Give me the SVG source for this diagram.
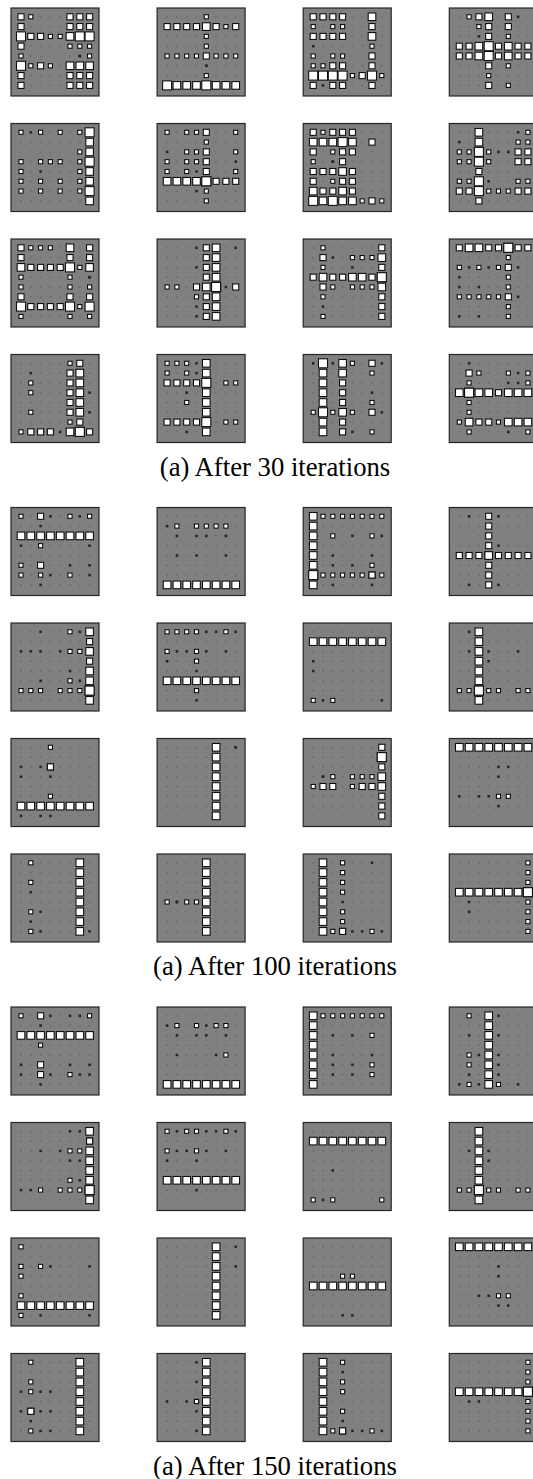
<svg xmlns="http://www.w3.org/2000/svg" width="533" height="1479" viewBox="0 0 533 1479">
<style>
.bg{fill:#808080;stroke:#262626;stroke-width:1.2}
.g{fill:url(#dots)}
.w{fill:#fff;stroke:#0d0d0d;stroke-width:.11}
.k{fill:#262626}
path{fill:none;stroke:none}
.A{marker-start:url(#mA);marker-mid:url(#mA);marker-end:url(#mA)}
.B{marker-start:url(#mB);marker-mid:url(#mB);marker-end:url(#mB)}
.C{marker-start:url(#mC);marker-mid:url(#mC);marker-end:url(#mC)}
.D{marker-start:url(#mD);marker-mid:url(#mD);marker-end:url(#mD)}
.E{marker-start:url(#mE);marker-mid:url(#mE);marker-end:url(#mE)}
.cap{font-family:"Liberation Serif","Times New Roman",serif;font-size:26.7px;fill:#000;text-anchor:middle}
</style>
<defs>
<pattern id="dots" patternUnits="userSpaceOnUse" x="-.5" y="-.5" width="1" height="1"><rect x=".43" y=".43" width=".14" height=".14" fill="#5e5e5e"/></pattern>
<marker id="mA" markerUnits="userSpaceOnUse" viewBox="-.5 -.5 1 1" markerWidth="1" markerHeight="1" overflow="visible"><rect class="w" x="-.46" y="-.46" width=".92" height=".92"/></marker>
<marker id="mB" markerUnits="userSpaceOnUse" viewBox="-.5 -.5 1 1" markerWidth="1" markerHeight="1" overflow="visible"><rect class="w" x="-.39" y="-.39" width=".78" height=".78"/></marker>
<marker id="mC" markerUnits="userSpaceOnUse" viewBox="-.5 -.5 1 1" markerWidth="1" markerHeight="1" overflow="visible"><rect class="w" x="-.31" y="-.31" width=".62" height=".62"/></marker>
<marker id="mD" markerUnits="userSpaceOnUse" viewBox="-.5 -.5 1 1" markerWidth="1" markerHeight="1" overflow="visible"><rect class="w" x="-.21" y="-.21" width=".42" height=".42"/></marker>
<marker id="mE" markerUnits="userSpaceOnUse" viewBox="-.5 -.5 1 1" markerWidth="1" markerHeight="1" overflow="visible"><rect class="k" x="-.13" y="-.13" width=".26" height=".26"/></marker>
</defs>

<!-- ===== After 30 iterations ===== -->
<g id="it30-r1c1" transform="translate(11,8)"><rect class="bg" width="88" height="88"/><g transform="translate(10,8.8) scale(9.8)"><rect class="g" x="-.5" y="-.5" width="8" height="8"/>
<path class="E" d="M6 4 6 4"/>
<path class="D" d="M1 0 3 2 4 2 5 3 6 3 7 3 0 4 7 4 1 5 3 5"/>
<path class="C" d="M0 0 5 0 6 0 7 0 0 1 5 1 6 1 7 1 1 2 2 2 0 3 2 5 0 6 5 6 6 6 7 6 0 7 5 7 6 7 7 7"/>
<path class="B" d="M5 2 5 5 6 5 7 5"/>
<path class="A" d="M0 2 6 2 7 2 0 5"/>
</g></g>
<g id="it30-r1c2" transform="translate(157.1,8)"><rect class="bg" width="88" height="88"/><g transform="translate(10,8.8) scale(9.8)"><rect class="g" x="-.5" y="-.5" width="8" height="8"/>
<path class="E" d="M4 5 4 5"/>
<path class="D" d="M4 0 6 1 4 2 4 3 0 4 1 4 2 4 3 4 5 4 6 4 7 4 4 6"/>
<path class="C" d="M0 1 1 1 2 1 3 1 5 1 7 1 4 4"/>
<path class="B" d="M4 1 1 7 2 7 3 7 5 7 6 7 7 7"/>
<path class="A" d="M0 7 4 7"/>
</g></g>
<g id="it30-r1c3" transform="translate(303.2,8)"><rect class="bg" width="88" height="88"/><g transform="translate(10,8.8) scale(9.8)"><rect class="g" x="-.5" y="-.5" width="8" height="8"/>
<path class="E" d="M0 3 1 7"/>
<path class="D" d="M0 1 2 1 3 1 6 3 0 4 2 4 3 4 0 5 1 5 4 6 7 6"/>
<path class="C" d="M0 0 1 0 2 0 3 0 6 1 0 2 1 2 2 2 3 2 6 4 2 5 3 5 6 5 5 6 0 7 2 7 3 7 6 7"/>
<path class="B" d="M6 0 6 2"/>
<path class="A" d="M0 6 1 6 2 6 3 6 6 6"/>
</g></g>
<g id="it30-r1c4" transform="translate(449.3,8)"><rect class="bg" width="88" height="88"/><g transform="translate(10,8.8) scale(9.8)"><rect class="g" x="-.5" y="-.5" width="8" height="8"/>
<path class="E" d="M6 0 2 2"/>
<path class="D" d="M1 0 2 1 5 2 5 5 3 6 5 7"/>
<path class="C" d="M2 0 5 0 3 1 5 1 3 2 0 3 1 3 4 3 6 3 7 3 0 4 1 4 4 4 6 4 7 4 3 5 3 7"/>
<path class="B" d="M3 0 2 3 5 3 2 4 5 4"/>
<path class="A" d="M3 3 3 4"/>
</g></g>

<g id="it30-r2c1" transform="translate(11,123.5)"><rect class="bg" width="88" height="88"/><g transform="translate(10,8.8) scale(9.8)"><rect class="g" x="-.5" y="-.5" width="8" height="8"/>
<path class="E" d="M1 0 2 4"/>
<path class="D" d="M0 0 2 0 4 0 6 0 6 2 0 3 2 3 3 3 4 3 6 3 0 4 6 4 0 5 2 5 4 5 6 5 0 6 2 6 4 6 6 6"/>
<path class="B" d="M7 1 7 2 7 4 7 5 7 7"/>
<path class="A" d="M7 0 7 3 7 6"/>
</g></g>
<g id="it30-r2c2" transform="translate(157.1,123.5)"><rect class="bg" width="88" height="88"/><g transform="translate(10,8.8) scale(9.8)"><rect class="g" x="-.5" y="-.5" width="8" height="8"/>
<path class="E" d="M0 2 7 3 3 4 3 6"/>
<path class="D" d="M0 0 2 0 3 0 7 0 4 1 2 2 3 2 7 2 0 3 2 3 3 3 0 4 2 4 7 4 4 6 4 7"/>
<path class="C" d="M4 0 4 2 4 3 4 4 5 5 6 5 7 5"/>
<path class="B" d="M0 5 1 5 2 5 3 5"/>
<path class="A" d="M4 5 4 5"/>
</g></g>
<g id="it30-r2c3" transform="translate(303.2,123.5)"><rect class="bg" width="88" height="88"/><g transform="translate(10,8.8) scale(9.8)"><rect class="g" x="-.5" y="-.5" width="8" height="8"/>
<path class="E" d="M2 3 2 3"/>
<path class="D" d="M1 0 2 2 0 3 2 5 5 7 7 7"/>
<path class="C" d="M0 0 2 0 3 0 4 0 6 1 0 2 3 2 4 2 3 3 0 4 1 4 2 4 4 4 0 5 3 5 4 5 1 6 2 6 4 6 6 7"/>
<path class="B" d="M0 1 1 1 2 1 4 1 3 4 0 6 3 6 1 7 3 7 4 7"/>
<path class="A" d="M3 1 0 7 2 7"/>
</g></g>
<g id="it30-r2c4" transform="translate(449.3,123.5)"><rect class="bg" width="88" height="88"/><g transform="translate(10,8.8) scale(9.8)"><rect class="g" x="-.5" y="-.5" width="8" height="8"/>
<path class="E" d="M6 0 0 1 4 2 5 2 3 5"/>
<path class="D" d="M7 0 6 1 7 1 0 2 1 2 3 2 0 3 1 3 3 3 0 5 1 5 6 5 7 5 3 6 4 6 5 6"/>
<path class="C" d="M6 2 7 2 6 3 7 3 2 4 0 6 1 6 6 6 7 6 2 7"/>
<path class="B" d="M2 0 2 1"/>
<path class="A" d="M2 2 2 3 2 5 2 6"/>
</g></g>

<g id="it30-r3c1" transform="translate(11,239)"><rect class="bg" width="88" height="88"/><g transform="translate(10,8.8) scale(9.8)"><rect class="g" x="-.5" y="-.5" width="8" height="8"/>
<path class="E" d="M7 3 7 3"/>
<path class="D" d="M1 0 2 0 3 0 6 2 0 3 5 3 0 4 5 4 7 4 6 6 0 7 5 7 7 7"/>
<path class="C" d="M0 0 7 0 0 1 5 1 7 1 1 2 2 2 3 2 4 2 0 5 5 5 7 5 1 6 2 6 3 6 4 6"/>
<path class="B" d="M5 0 0 2 7 2"/>
<path class="A" d="M5 2 0 6 5 6 7 6"/>
</g></g>
<g id="it30-r3c2" transform="translate(157.1,239)"><rect class="bg" width="88" height="88"/><g transform="translate(10,8.8) scale(9.8)"><rect class="g" x="-.5" y="-.5" width="8" height="8"/>
<path class="E" d="M3 0 7 0 3 2 6 4 3 6 3 7"/>
<path class="D" d="M0 4 1 4 3 5"/>
<path class="C" d="M4 0 4 1 4 2 4 3 3 4 7 4 4 5 4 6 4 7"/>
<path class="B" d="M5 0 5 1 5 2 5 3 4 4 5 5 5 6 5 7"/>
<path class="A" d="M5 4 5 4"/>
</g></g>
<g id="it30-r3c3" transform="translate(303.2,239)"><rect class="bg" width="88" height="88"/><g transform="translate(10,8.8) scale(9.8)"><rect class="g" x="-.5" y="-.5" width="8" height="8"/>
<path class="E" d="M2 1 4 2 1 6"/>
<path class="D" d="M1 0 4 1 5 1 6 1 1 2 2 4 4 4 5 4 6 4 1 5 1 7"/>
<path class="C" d="M7 0 1 1 7 2 0 3 2 3 3 3 6 3 1 4 7 5 7 6 7 7"/>
<path class="B" d="M7 1 1 3 4 3 5 3 7 4"/>
<path class="A" d="M7 3 7 3"/>
</g></g>
<g id="it30-r3c4" transform="translate(449.3,239)"><rect class="bg" width="88" height="88"/><g transform="translate(10,8.8) scale(9.8)"><rect class="g" x="-.5" y="-.5" width="8" height="8"/>
<path class="E" d="M1 2 3 2 6 2 0 3 0 4 2 4 6 5 0 7 2 7"/>
<path class="D" d="M5 1 0 2 2 2 4 2 5 3 5 4 0 5 1 5 2 5 3 5 4 5 5 6 5 7"/>
<path class="C" d="M0 0 3 0 4 0 6 0 7 0 5 2 5 5"/>
<path class="B" d="M1 0 2 0"/>
<path class="A" d="M5 0 5 0"/>
</g></g>

<g id="it30-r4c1" transform="translate(11,354.5)"><rect class="bg" width="88" height="88"/><g transform="translate(10,8.8) scale(9.8)"><rect class="g" x="-.5" y="-.5" width="8" height="8"/>
<path class="E" d="M1 1 7 3 7 5 4 7"/>
<path class="D" d="M5 0 1 2 1 3 1 5 5 6 0 7"/>
<path class="C" d="M6 0 5 1 5 2 5 3 5 4 5 5 6 6 1 7 2 7 3 7 7 7"/>
<path class="B" d="M6 1 6 2 6 3 6 4 6 5 5 7"/>
<path class="A" d="M6 7 6 7"/>
</g></g>
<g id="it30-r4c2" transform="translate(157.1,354.5)"><rect class="bg" width="88" height="88"/><g transform="translate(10,8.8) scale(9.8)"><rect class="g" x="-.5" y="-.5" width="8" height="8"/>
<path class="E" d="M3 0 3 1 2 3 2 7"/>
<path class="D" d="M0 0 1 0 2 0 0 1 2 1 6 2 7 2 2 4 6 6 7 6"/>
<path class="C" d="M0 2 1 2 2 2 3 2 0 6 1 6 2 6 3 6"/>
<path class="B" d="M4 0 4 1 4 3 4 4 4 5 4 7"/>
<path class="A" d="M4 2 4 6"/>
</g></g>
<g id="it30-r4c3" transform="translate(303.2,354.5)"><rect class="bg" width="88" height="88"/><g transform="translate(10,8.8) scale(9.8)"><rect class="g" x="-.5" y="-.5" width="8" height="8"/>
<path class="E" d="M0 0 2 0 7 0 6 3 7 5 4 7"/>
<path class="D" d="M4 0 6 1 6 4 0 5 2 5 4 5 6 7"/>
<path class="C" d="M6 0 3 2 3 3 3 4 6 5 3 6 3 7"/>
<path class="B" d="M3 0 1 1 3 1 1 2 1 3 1 4 3 5 1 6 1 7"/>
<path class="A" d="M1 0 1 5"/>
</g></g>
<g id="it30-r4c4" transform="translate(449.3,354.5)"><rect class="bg" width="88" height="88"/><g transform="translate(10,8.8) scale(9.8)"><rect class="g" x="-.5" y="-.5" width="8" height="8"/>
<path class="E" d="M1 0 6 1 5 2 6 2 5 7"/>
<path class="D" d="M2 1 5 1 7 1 1 2 7 2 1 4 1 5 0 6 4 6 1 7 7 7"/>
<path class="C" d="M1 1 4 3 2 6 3 6"/>
<path class="B" d="M0 3 2 3 3 3 5 3 6 3 7 3 1 6 5 6 6 6 7 6"/>
<path class="A" d="M1 3 1 3"/>
</g></g>

<text class="cap" x="275" y="475.5">(a) After 30 iterations</text>

<!-- ===== After 100 iterations ===== -->
<g id="it100-r1c1" transform="translate(11,507.5)"><rect class="bg" width="88" height="88"/><g transform="translate(10,8.8) scale(9.8)"><rect class="g" x="-.5" y="-.5" width="8" height="8"/>
<path class="E" d="M3 0 6 0 2 1 0 3 7 3 5 5 7 5 3 6 7 6 2 7"/>
<path class="D" d="M0 0 5 0 7 0 2 3 0 5 0 6 2 6 5 6"/>
<path class="C" d="M2 0 2 5"/>
<path class="B" d="M0 2 1 2 2 2 3 2 4 2 5 2 6 2 7 2"/>
</g></g>
<g id="it100-r1c2" transform="translate(157.1,507.5)"><rect class="bg" width="88" height="88"/><g transform="translate(10,8.8) scale(9.8)"><rect class="g" x="-.5" y="-.5" width="8" height="8"/>
<path class="E" d="M0 1 1 2 3 2 4 2 6 2 1 4 3 4 6 4"/>
<path class="D" d="M1 1 3 1 4 1 5 1 6 1"/>
<path class="B" d="M0 7 1 7 2 7 3 7 4 7 5 7 6 7 7 7"/>
</g></g>
<g id="it100-r1c3" transform="translate(303.2,507.5)"><rect class="bg" width="88" height="88"/><g transform="translate(10,8.8) scale(9.8)"><rect class="g" x="-.5" y="-.5" width="8" height="8"/>
<path class="E" d="M4 2 7 2 2 4 6 4 2 5 4 5 2 7 6 7"/>
<path class="D" d="M1 0 2 0 3 0 4 0 5 0 6 0 7 0 2 2 6 2 6 5 1 6 2 6 3 6 4 6 5 6 7 6"/>
<path class="C" d="M6 6 6 6"/>
<path class="B" d="M0 0 0 1 0 2 0 3 0 4 0 5 0 7"/>
<path class="A" d="M0 6 0 6"/>
</g></g>
<g id="it100-r1c4" transform="translate(449.3,507.5)"><rect class="bg" width="88" height="88"/><g transform="translate(10,8.8) scale(9.8)"><rect class="g" x="-.5" y="-.5" width="8" height="8"/>
<path class="E" d="M1 0 4 0 4 3 1 7 4 7"/>
<path class="C" d="M3 0 3 1 3 2 3 3 3 5 3 6 3 7 0 4 1 4 2 4 4 4 5 4 6 4 7 4"/>
<path class="B" d="M3 4 3 4"/>
</g></g>

<g id="it100-r2c1" transform="translate(11,623)"><rect class="bg" width="88" height="88"/><g transform="translate(10,8.8) scale(9.8)"><rect class="g" x="-.5" y="-.5" width="8" height="8"/>
<path class="E" d="M2 0 6 0 0 2 1 2 2 2 4 2 5 4 2 5 6 5"/>
<path class="D" d="M5 0 5 2 6 2 5 5 0 6 1 6 2 6 4 6 5 6 6 6"/>
<path class="C" d="M7 1 7 3"/>
<path class="B" d="M7 0 7 2 7 4 7 5 7 7"/>
<path class="A" d="M7 6 7 6"/>
</g></g>
<g id="it100-r2c2" transform="translate(157.1,623)"><rect class="bg" width="88" height="88"/><g transform="translate(10,8.8) scale(9.8)"><rect class="g" x="-.5" y="-.5" width="8" height="8"/>
<path class="E" d="M4 0 5 0 7 0 1 2 2 2 4 2 6 2 0 3 3 4 3 7"/>
<path class="D" d="M0 0 1 0 2 0 3 0 6 0 0 2 3 2 3 3 3 6"/>
<path class="B" d="M0 5 1 5 2 5 3 5 4 5 5 5 6 5 7 5"/>
</g></g>
<g id="it100-r2c3" transform="translate(303.2,623)"><rect class="bg" width="88" height="88"/><g transform="translate(10,8.8) scale(9.8)"><rect class="g" x="-.5" y="-.5" width="8" height="8"/>
<path class="E" d="M0 3 0 4 1 7 7 7"/>
<path class="D" d="M0 7 2 7"/>
<path class="B" d="M0 1 1 1 2 1 3 1 4 1 5 1 6 1 7 1"/>
</g></g>
<g id="it100-r2c4" transform="translate(449.3,623)"><rect class="bg" width="88" height="88"/><g transform="translate(10,8.8) scale(9.8)"><rect class="g" x="-.5" y="-.5" width="8" height="8"/>
<path class="E" d="M1 0 1 2 3 2 6 2 3 3"/>
<path class="D" d="M0 6 1 6 3 6 4 6 6 6 7 6"/>
<path class="B" d="M2 0 2 1 2 2 2 3 2 4 2 5 2 7"/>
<path class="A" d="M2 6 2 6"/>
</g></g>

<g id="it100-r3c1" transform="translate(11,738.5)"><rect class="bg" width="88" height="88"/><g transform="translate(10,8.8) scale(9.8)"><rect class="g" x="-.5" y="-.5" width="8" height="8"/>
<path class="E" d="M0 2 2 2 0 3 3 3 0 7 2 7 3 7"/>
<path class="D" d="M3 0 3 5"/>
<path class="C" d="M3 2 3 2"/>
<path class="B" d="M0 6 1 6 2 6 3 6 4 6 5 6 6 6 7 6"/>
</g></g>
<g id="it100-r3c2" transform="translate(157.1,738.5)"><rect class="bg" width="88" height="88"/><g transform="translate(10,8.8) scale(9.8)"><rect class="g" x="-.5" y="-.5" width="8" height="8"/>
<path class="E" d="M7 0 7 0"/>
<path class="B" d="M5 0 5 1 5 2 5 3 5 4 5 5 5 6 5 7"/>
</g></g>
<g id="it100-r3c3" transform="translate(303.2,738.5)"><rect class="bg" width="88" height="88"/><g transform="translate(10,8.8) scale(9.8)"><rect class="g" x="-.5" y="-.5" width="8" height="8"/>
<path class="E" d="M1 3 1 3"/>
<path class="D" d="M2 3 4 3 5 3 6 3 0 4 4 4"/>
<path class="C" d="M7 0 7 2 1 4 2 4 5 4 6 4 7 5 7 6 7 7"/>
<path class="B" d="M7 3 7 4"/>
<path class="A" d="M7 1 7 1"/>
</g></g>
<g id="it100-r3c4" transform="translate(449.3,738.5)"><rect class="bg" width="88" height="88"/><g transform="translate(10,8.8) scale(9.8)"><rect class="g" x="-.5" y="-.5" width="8" height="8"/>
<path class="E" d="M4 2 5 2 4 3 0 5 2 5 3 5 4 6"/>
<path class="D" d="M4 5 5 5"/>
<path class="B" d="M0 0 1 0 2 0 3 0 4 0 5 0 6 0 7 0"/>
</g></g>

<g id="it100-r4c1" transform="translate(11,854)"><rect class="bg" width="88" height="88"/><g transform="translate(10,8.8) scale(9.8)"><rect class="g" x="-.5" y="-.5" width="8" height="8"/>
<path class="E" d="M1 3 2 5 1 6 2 7 7 7"/>
<path class="D" d="M1 0 1 2 1 5 1 7"/>
<path class="B" d="M6 0 6 1 6 2 6 3 6 4 6 5 6 6 6 7"/>
</g></g>
<g id="it100-r4c2" transform="translate(157.1,854)"><rect class="bg" width="88" height="88"/><g transform="translate(10,8.8) scale(9.8)"><rect class="g" x="-.5" y="-.5" width="8" height="8"/>
<path class="E" d="M1 4 1 4"/>
<path class="D" d="M0 4 2 4 3 4"/>
<path class="B" d="M4 0 4 1 4 2 4 3 4 4 4 5 4 6 4 7"/>
</g></g>
<g id="it100-r4c3" transform="translate(303.2,854)"><rect class="bg" width="88" height="88"/><g transform="translate(10,8.8) scale(9.8)"><rect class="g" x="-.5" y="-.5" width="8" height="8"/>
<path class="E" d="M6 0 3 4 4 7 5 7 7 7"/>
<path class="D" d="M3 0 3 1 3 2 3 3 3 5 3 6 2 7 6 7"/>
<path class="C" d="M3 7 3 7"/>
<path class="B" d="M1 0 1 1 1 2 1 3 1 4 1 5 1 6 1 7"/>
</g></g>
<g id="it100-r4c4" transform="translate(449.3,854)"><rect class="bg" width="88" height="88"/><g transform="translate(10,8.8) scale(9.8)"><rect class="g" x="-.5" y="-.5" width="8" height="8"/>
<path class="E" d="M1 4 1 5"/>
<path class="D" d="M7 0 7 1 7 2 7 4 7 5 7 6 7 7"/>
<path class="B" d="M0 3 1 3 2 3 3 3 4 3 5 3 6 3"/>
<path class="A" d="M7 3 7 3"/>
</g></g>

<text class="cap" x="275" y="975">(a) After 100 iterations</text>

<!-- ===== After 150 iterations ===== -->
<g id="it150-r1c1" transform="translate(11,1007)"><rect class="bg" width="88" height="88"/><g transform="translate(10,8.8) scale(9.8)"><rect class="g" x="-.5" y="-.5" width="8" height="8"/>
<path class="E" d="M3 0 5 0 6 0 2 1 0 5 5 5 7 5 0 6 3 6 6 6 7 6 2 7"/>
<path class="D" d="M0 0 7 0 2 3 5 6"/>
<path class="C" d="M2 0 2 5 2 6"/>
<path class="B" d="M0 2 1 2 2 2 3 2 4 2 5 2 6 2 7 2"/>
</g></g>
<g id="it150-r1c2" transform="translate(157.1,1007)"><rect class="bg" width="88" height="88"/><g transform="translate(10,8.8) scale(9.8)"><rect class="g" x="-.5" y="-.5" width="8" height="8"/>
<path class="E" d="M0 1 4 1 1 2 3 2 4 2 6 2 1 4 5 4"/>
<path class="D" d="M1 1 3 1 5 1 6 1 6 4"/>
<path class="B" d="M0 7 1 7 2 7 3 7 4 7 5 7 6 7 7 7"/>
</g></g>
<g id="it150-r1c3" transform="translate(303.2,1007)"><rect class="bg" width="88" height="88"/><g transform="translate(10,8.8) scale(9.8)"><rect class="g" x="-.5" y="-.5" width="8" height="8"/>
<path class="E" d="M2 2 4 2 2 4 6 4 2 5 4 5 2 6 4 6"/>
<path class="D" d="M1 0 2 0 3 0 4 0 5 0 6 0 7 0 6 2 6 5 6 6"/>
<path class="B" d="M0 0 0 1 0 2 0 3 0 4 0 5 0 6 0 7"/>
</g></g>
<g id="it150-r1c4" transform="translate(449.3,1007)"><rect class="bg" width="88" height="88"/><g transform="translate(10,8.8) scale(9.8)"><rect class="g" x="-.5" y="-.5" width="8" height="8"/>
<path class="E" d="M4 0 1 2 4 2 2 4 4 4 4 5 1 6 4 6 0 7 2 7 6 7"/>
<path class="D" d="M1 0 1 4 1 5 1 7 4 7"/>
<path class="B" d="M3 0 3 1 3 2 3 3 3 4 3 5 3 6 3 7"/>
</g></g>

<g id="it150-r2c1" transform="translate(11,1122.5)"><rect class="bg" width="88" height="88"/><g transform="translate(10,8.8) scale(9.8)"><rect class="g" x="-.5" y="-.5" width="8" height="8"/>
<path class="E" d="M5 0 6 0 2 2 4 2 5 3 6 3 6 5 0 6 1 6"/>
<path class="D" d="M5 2 6 2 5 5 2 6 4 6 5 6 6 6"/>
<path class="C" d="M7 1 7 1"/>
<path class="B" d="M7 0 7 2 7 3 7 4 7 5 7 7"/>
<path class="A" d="M7 6 7 6"/>
</g></g>
<g id="it150-r2c2" transform="translate(157.1,1122.5)"><rect class="bg" width="88" height="88"/><g transform="translate(10,8.8) scale(9.8)"><rect class="g" x="-.5" y="-.5" width="8" height="8"/>
<path class="E" d="M1 0 4 0 5 0 7 0 1 2 2 2 4 2 6 2 0 3 3 3 3 6"/>
<path class="D" d="M0 0 2 0 3 0 6 0 0 2 3 2"/>
<path class="B" d="M0 5 1 5 2 5 3 5 4 5 5 5 6 5 7 5"/>
</g></g>
<g id="it150-r2c3" transform="translate(303.2,1122.5)"><rect class="bg" width="88" height="88"/><g transform="translate(10,8.8) scale(9.8)"><rect class="g" x="-.5" y="-.5" width="8" height="8"/>
<path class="E" d="M2 4 1 7"/>
<path class="D" d="M0 7 2 7 7 7"/>
<path class="B" d="M0 1 1 1 2 1 3 1 4 1 5 1 6 1 7 1"/>
</g></g>
<g id="it150-r2c4" transform="translate(449.3,1122.5)"><rect class="bg" width="88" height="88"/><g transform="translate(10,8.8) scale(9.8)"><rect class="g" x="-.5" y="-.5" width="8" height="8"/>
<path class="E" d="M1 2 3 2 3 3"/>
<path class="D" d="M0 6 1 6 3 6 4 6 6 6 7 6"/>
<path class="B" d="M2 0 2 1 2 2 2 3 2 4 2 5 2 7"/>
<path class="A" d="M2 6 2 6"/>
</g></g>

<g id="it150-r3c1" transform="translate(11,1238)"><rect class="bg" width="88" height="88"/><g transform="translate(10,8.8) scale(9.8)"><rect class="g" x="-.5" y="-.5" width="8" height="8"/>
<path class="E" d="M3 2 7 2 2 7 7 7"/>
<path class="D" d="M0 0 0 2 2 2 0 3 0 5 0 7"/>
<path class="B" d="M0 6 1 6 2 6 3 6 4 6 5 6 6 6 7 6"/>
</g></g>
<g id="it150-r3c2" transform="translate(157.1,1238)"><rect class="bg" width="88" height="88"/><g transform="translate(10,8.8) scale(9.8)"><rect class="g" x="-.5" y="-.5" width="8" height="8"/>
<path class="E" d="M7 0 7 2"/>
<path class="B" d="M5 0 5 1 5 2 5 3 5 4 5 5 5 6 5 7"/>
</g></g>
<g id="it150-r3c3" transform="translate(303.2,1238)"><rect class="bg" width="88" height="88"/><g transform="translate(10,8.8) scale(9.8)"><rect class="g" x="-.5" y="-.5" width="8" height="8"/>
<path class="E" d="M3 7 4 7"/>
<path class="D" d="M3 3 4 3"/>
<path class="B" d="M0 4 1 4 2 4 3 4 4 4 5 4 6 4 7 4"/>
</g></g>
<g id="it150-r3c4" transform="translate(449.3,1238)"><rect class="bg" width="88" height="88"/><g transform="translate(10,8.8) scale(9.8)"><rect class="g" x="-.5" y="-.5" width="8" height="8"/>
<path class="E" d="M4 2 4 3 2 5 3 5 4 6 5 6"/>
<path class="D" d="M4 5 5 5"/>
<path class="B" d="M0 0 1 0 2 0 3 0 4 0 5 0 6 0 7 0"/>
</g></g>

<g id="it150-r4c1" transform="translate(11,1353.5)"><rect class="bg" width="88" height="88"/><g transform="translate(10,8.8) scale(9.8)"><rect class="g" x="-.5" y="-.5" width="8" height="8"/>
<path class="E" d="M0 3 2 3 3 3 0 5 2 5 3 5 1 6 2 7 3 7"/>
<path class="D" d="M1 0 1 2 1 3 1 7"/>
<path class="C" d="M1 5 1 5"/>
<path class="B" d="M6 0 6 1 6 2 6 3 6 4 6 5 6 6 6 7"/>
</g></g>
<g id="it150-r4c2" transform="translate(157.1,1353.5)"><rect class="bg" width="88" height="88"/><g transform="translate(10,8.8) scale(9.8)"><rect class="g" x="-.5" y="-.5" width="8" height="8"/>
<path class="E" d="M3 0 3 2 0 4 2 4 3 5 3 7"/>
<path class="D" d="M3 4 3 4"/>
<path class="B" d="M4 0 4 1 4 2 4 3 4 4 4 5 4 6 4 7"/>
</g></g>
<g id="it150-r4c3" transform="translate(303.2,1353.5)"><rect class="bg" width="88" height="88"/><g transform="translate(10,8.8) scale(9.8)"><rect class="g" x="-.5" y="-.5" width="8" height="8"/>
<path class="E" d="M3 1 3 6 4 7 5 7 7 7"/>
<path class="D" d="M3 0 3 2 3 3 3 5 2 7 6 7"/>
<path class="C" d="M3 7 3 7"/>
<path class="B" d="M1 0 1 1 1 2 1 3 1 4 1 5 1 6 1 7"/>
</g></g>
<g id="it150-r4c4" transform="translate(449.3,1353.5)"><rect class="bg" width="88" height="88"/><g transform="translate(10,8.8) scale(9.8)"><rect class="g" x="-.5" y="-.5" width="8" height="8"/>
<path class="E" d="M1 4 2 4"/>
<path class="D" d="M7 0 7 1 7 2 7 4 7 5 7 6 7 7"/>
<path class="B" d="M0 3 1 3 2 3 3 3 4 3 5 3 6 3"/>
<path class="A" d="M7 3 7 3"/>
</g></g>

<text class="cap" x="275" y="1474.5">(a) After 150 iterations</text>
</svg>
